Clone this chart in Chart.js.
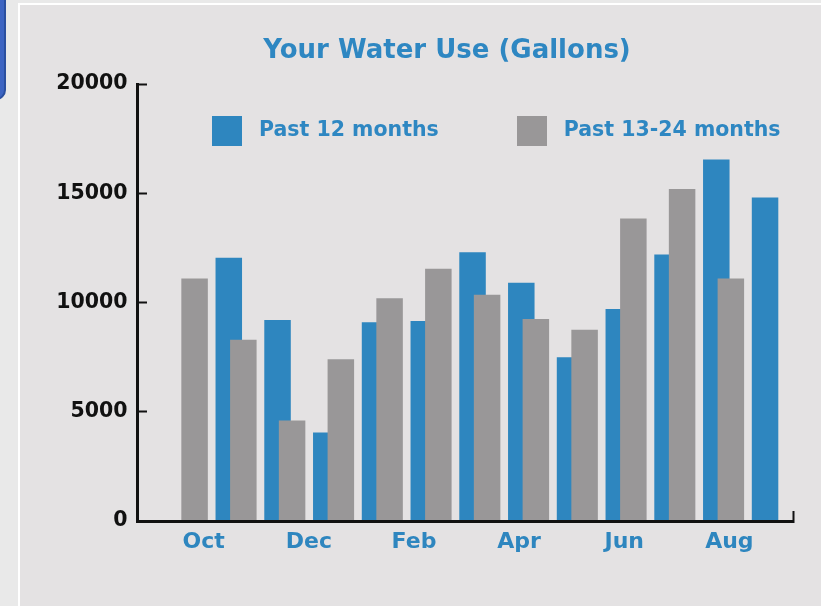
<!DOCTYPE html>
<html>
<head>
<meta charset="utf-8">
<title>Your Water Use (Gallons)</title>
<script src="https://cdn.jsdelivr.net/npm/chart.js@4.4.1/dist/chart.umd.min.js"></script>
<style>
    body { margin: 0; width: 821px; height: 606px; overflow: hidden; position: relative; background: #e9e9e9; font-family: "DejaVu Sans", Verdana, sans-serif; }
    #tab { position: absolute; left: -20px; top: -10px; width: 22px; height: 106px; background: #3c64c2; border: 2px solid #2a4f9f; border-radius: 0 0 10px 0; }
    #panel { position: absolute; left: 18px; top: 3px; right: 0; bottom: 0; background: #e4e2e3; border-left: 2px solid #fff; border-top: 2px solid #fff; }
    #chart { position: absolute; left: 0; top: 0; }
    #title { position: absolute; left: 447px; top: 34px; transform: translateX(-50%); white-space: nowrap; font-weight: bold; font-size: 26px; line-height: 30px; color: #2e87c2; }
    #legend { position: absolute; left: 212px; top: 116px; display: flex; gap: 78px; }
    .item { display: flex; align-items: flex-start; gap: 17px; }
    .swatch { width: 30px; height: 30px; }
    .item span { font-weight: bold; font-size: 20.5px; line-height: 30px; margin-top: -2px; color: #2e87c2; white-space: nowrap; }
</style>
</head>
<body>
<div id="tab"></div>
<div id="panel"></div>
<canvas id="chart" width="821" height="606"></canvas>
<div id="title">Your Water Use (Gallons)</div>
<div id="legend"></div>

<script>
// -----------------------------
// Data
// -----------------------------
const months = ["Oct", "Nov", "Dec", "Jan", "Feb", "Mar", "Apr", "May", "Jun", "Jul", "Aug", "Sep"];
const past12 = [12050, 9200, 4050, 9100, 9150, 12300, 10900, 7500, 9700, 12200, 16550, 14800];
const past13to24 = [11100, 8300, 4600, 7400, 10200, 11550, 10350, 9250, 8750, 13850, 15200, 11100];
const yMax = 20000;
const yStep = 5000;

const BLUE = "#2e86bf";
const GRAY = "#999798";
const INK = "#111111";
const FONT = "DejaVu Sans";

Chart.defaults.font.family = FONT;

// -----------------------------
// Chart
// -----------------------------
const ctx = document.getElementById("chart").getContext("2d");
const chart = new Chart(ctx, {
    type: "bar",
    data: {
        datasets: [
            // gray first so it sits left in each pair and is painted on top
            { label: "Past 13-24 months", data: past13to24.map((v, i) => ({ x: i, y: v })), backgroundColor: GRAY, xAxisID: "xb" },
            { label: "Past 12 months", data: past12.map((v, i) => ({ x: i, y: v })), backgroundColor: BLUE, xAxisID: "xb" }
        ]
    },
    options: {
        responsive: false,
        animation: false,
        categoryPercentage: 1.403,
        barPercentage: 0.775,
        layout: { padding: { left: 0, right: 28, top: 84, bottom: 50 } },
        plugins: { legend: { display: false }, title: { display: false }, tooltip: { enabled: false } },
        scales: {
            // month slots the bars sit on
            xb: {
                type: "linear", display: false, offset: false,
                min: -1.532, max: 11.924,
                afterBuildTicks: s => { s.ticks = months.map((m, i) => ({ value: i })); },
                grid: { offset: false }
            },
            // month labels
            x: {
                type: "linear", position: "bottom", offset: false,
                min: -1.269, max: 11.21,
                afterBuildTicks: s => {
                    s.ticks = months.map((m, i) => i).filter(i => i % 2 === 0)
                        .map(v => ({ value: v })).concat({ value: s.max });
                },
                afterFit: s => { s.height = 35; },
                ticks: {
                    autoSkip: false, maxRotation: 0, padding: 18, color: BLUE,
                    font: { size: 22, weight: "bold" },
                    callback: v => months[v] || ""
                },
                grid: {
                    offset: false, drawOnChartArea: false, tickLength: -10, tickWidth: 2,
                    tickColor: c => (c.tick && c.tick.value === c.scale.max) ? INK : "transparent"
                },
                border: { color: INK, width: 3, z: 1 }
            },
            y: {
                min: 0, max: yMax,
                afterFit: s => { s.width = 137; },
                ticks: {
                    stepSize: yStep, padding: 19.5, color: INK,
                    font: { size: 20.5, weight: "bold" },
                    callback: v => String(v)
                },
                grid: { drawOnChartArea: false, tickLength: -10, tickWidth: 2, tickColor: INK },
                border: { color: INK, width: 3, z: 1 }
            }
        }
    }
});

// -----------------------------
// Legend (blue first, like the original)
// -----------------------------
const legendDiv = document.getElementById("legend");
chart.data.datasets.slice().reverse().forEach(ds => {
    legendDiv.innerHTML += `<div class="item"><div class="swatch" style="background:${ds.backgroundColor}"></div><span>${ds.label}</span></div>`;
});
</script>
</body>
</html>
